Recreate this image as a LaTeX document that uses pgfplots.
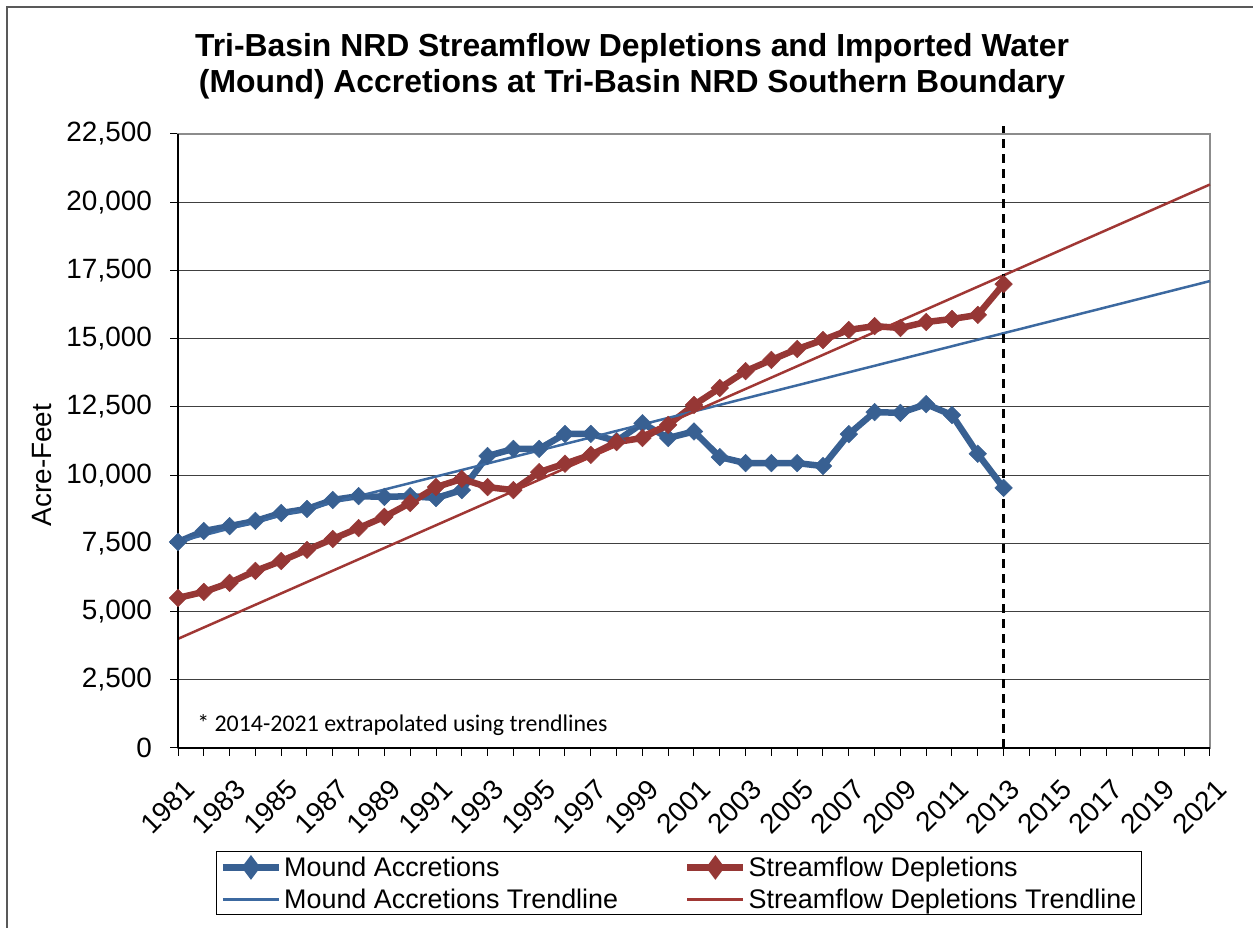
\documentclass[border=0pt]{standalone}
\usepackage{fontspec}
\setmainfont{Liberation Sans}
\newfontfamily\calibri{Carlito}
\usepackage{pgfplots}
\pgfplotsset{compat=1.18}
\definecolor{mblue}{RGB}{56,96,146}
\definecolor{mred}{RGB}{150,55,53}
\definecolor{tblue}{RGB}{60,105,160}
\definecolor{tred}{RGB}{160,55,52}
\pgfplotsset{
  datalegend/.style={legend image code/.code={\draw[##1, mark=diamond*, mark size=7bp, mark options={rotate=0, solid}, mark repeat=2, mark phase=2] plot coordinates {(0bp,0bp) (28bp,0bp) (56bp,0bp)};}},
  linelegend/.style={legend image code/.code={\draw[##1] (0bp,0bp) -- (56bp,0bp);}},
}
\pgfplotstableread{
year mound stream
1981 7550 5500
1982 7950 5720
1983 8130 6050
1984 8320 6490
1985 8610 6850
1986 8760 7260
1987 9090 7660
1988 9230 8060
1989 9200 8470
1990 9230 8980
1991 9160 9560
1992 9450 9860
1993 10700 9560
1994 10960 9450
1995 10960 10110
1996 11510 10420
1997 11510 10740
1998 11250 11210
1999 11900 11360
2000 11360 11840
2001 11600 12570
2002 10660 13190
2003 10440 13810
2004 10440 14220
2005 10440 14620
2006 10330 14950
2007 11500 15320
2008 12310 15460
2009 12280 15390
2010 12600 15610
2011 12200 15720
2012 10780 15870
2013 9530 17000
}\datatable
\begin{document}
\begin{tikzpicture}[x=1bp,y=1bp]
\useasboundingbox (0,0) rectangle (1253,928);
\draw[black!65, line width=2bp] (7,0) -- (7,921) -- (1253,921);
\node[font=\fontsize{32}{36}\selectfont\bfseries, align=center] at (632,862) {Tri-Basin NRD Streamflow Depletions and Imported Water\\(Mound) Accretions at Tri-Basin NRD Southern Boundary};
\node[rotate=90, font=\fontsize{28}{32}\selectfont] at (42,463) {Acre-Feet};
\begin{axis}[
  at={(178bp,180bp)}, anchor=south west,
  scale only axis, width=1032bp, height=614bp,
  xmin=1981, xmax=2021, ymin=0, ymax=22500,
  xtick={1981,1983,...,2021},
  minor xtick={1982,1984,...,2020},
  ytick={0,2500,...,22500},
  tick pos=left,
  scaled y ticks=false,
  /pgf/number format/.cd, 1000 sep={,}, assume math mode=true, /pgfplots/.cd,
  xticklabel style={/pgf/number format/1000 sep={}, rotate=45, anchor=north east, font=\fontsize{28}{32}\selectfont, inner sep=0bp, xshift=-12bp, yshift=-18bp},
  yticklabel style={font=\fontsize{28}{32}\selectfont, inner sep=0bp, xshift=-18bp},
  tick align=outside,
  major tick length=8bp, minor tick length=8bp,
  every tick/.style={black, line width=1bp},
  ymajorgrids, major grid style={black!75, line width=1.2bp},
  axis line style={black!45, line width=2.5bp},
  legend columns=2,
  legend style={at={(0.4855,-0.1685)}, anchor=north, draw=black, line width=1bp,
    font=\fontsize{27}{31}\selectfont, /tikz/every even column/.append style={column sep=64bp},
    inner xsep=3bp, inner ysep=3bp, row sep=7bp},
  legend cell align=left,
  clip=false,
]
\addplot[mblue, line width=6.5bp, mark=square*, mark size=6.2bp, mark options={rotate=45, solid, line width=0.5bp}, datalegend] table[x=year, y=mound] {\datatable};
\addlegendentry{Mound Accretions}
\addplot[mred, line width=6.5bp, mark=square*, mark size=6.2bp, mark options={rotate=45, solid, line width=0.5bp}, datalegend] table[x=year, y=stream] {\datatable};
\addlegendentry{Streamflow Depletions}
\addplot[tblue, line width=2.5bp, linelegend] coordinates {(1981,7560) (2021,17110)};
\addlegendentry{Mound Accretions Trendline}
\addplot[tred, line width=2.5bp, linelegend] coordinates {(1981,4000) (2021,20650)};
\addlegendentry{Streamflow Depletions Trendline}
\addplot[black, line width=2.5bp, dash pattern=on 9bp off 6bp, forget plot] coordinates {(2013,0) (2013,22800)};
\draw[black, line width=2bp] (rel axis cs:0,0) -- (rel axis cs:1,0);
\draw[black, line width=2bp] (rel axis cs:0,0) -- (rel axis cs:0,1);
\node[font=\calibri\fontsize{24}{28}\selectfont, anchor=west, inner sep=0bp] at (axis cs:1981.74,843) {* 2014-2021 extrapolated using trendlines};
\end{axis}
\end{tikzpicture}
\end{document}
